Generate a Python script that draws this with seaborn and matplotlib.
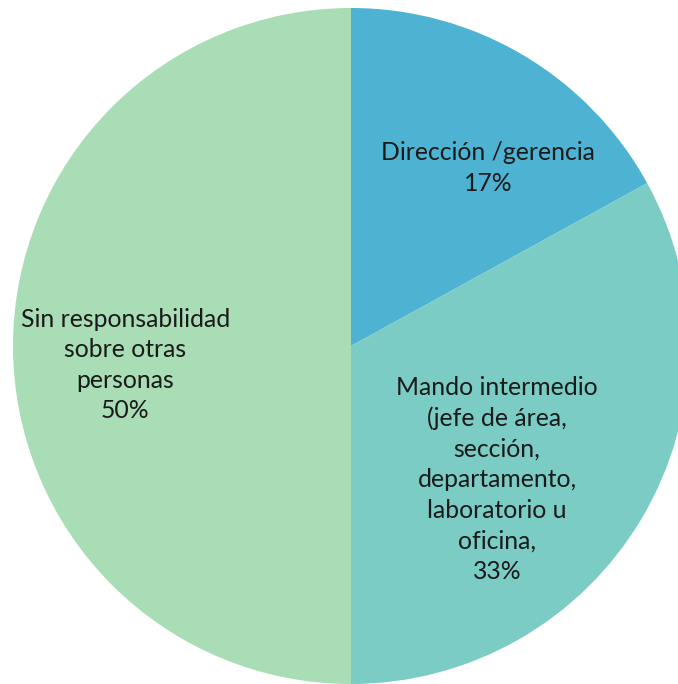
import matplotlib
matplotlib.use('Agg')
import matplotlib.pyplot as plt
import seaborn as sns

# datos del grafico
categorias = ['Dirección /gerencia',
              'Mando intermedio\n(jefe de área,\nsección,\ndepartamento,\nlaboratorio u\noficina,',
              'Sin responsabilidad\nsobre otras\npersonas']
porcentajes = [17, 33, 50]
colores = ['#4eb3d3', '#7bccc4', '#a8ddb5']
# posiciones de las etiquetas (fraccion del radio)
pos_etiquetas = [(0.405, 0.527), (0.432, -0.395), (-0.668, -0.056)]

sns.set_style('white')
plt.rcParams['font.family'] = ['Lato', 'DejaVu Sans']

W, H = 678, 684
fig = plt.figure(figsize=(W / 100, H / 100), dpi=100)
cx, cy, R = 351, 346, 338
ax = fig.add_axes([(cx - R) / W, (H - cy - R) / H, 2 * R / W, 2 * R / H])

ax.pie(porcentajes, colors=colores, startangle=90, counterclock=False,
       radius=1, wedgeprops=dict(linewidth=0))
ax.set_xlim(-1, 1)
ax.set_ylim(-1, 1)
ax.set_aspect('equal')
ax.axis('off')

for cat, p, (x, y) in zip(categorias, porcentajes, pos_etiquetas):
    ax.text(x, y, f'{cat}\n{p}%', ha='center', va='center',
            fontsize=17.8, color='#1a1a1a', linespacing=1.4)

fig.savefig('out.png', dpi=100)
